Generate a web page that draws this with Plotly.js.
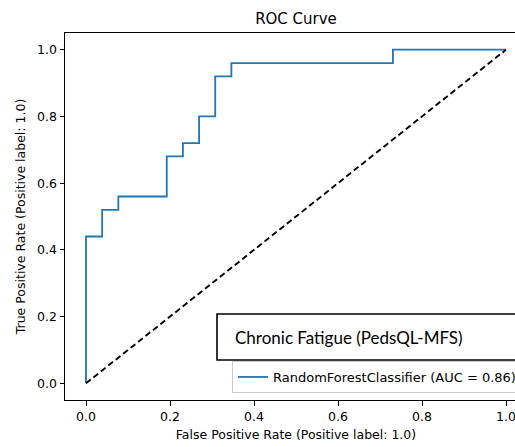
<!DOCTYPE html>
<html>
<head>
<meta charset="utf-8">
<script src="https://cdn.plot.ly/plotly-3.0.1.min.js"></script>
<style>
html, body { margin: 0; padding: 0; overflow: hidden; background: #fff; width: 515px; height: 447px; }
#chart { width: 560px; height: 447px; }
</style>
</head>
<body>
<div id="chart"></div>
<script>
// ROC curve points (FPR, TPR)
const fpr = [0, 0, 1/26, 2/26, 5/26, 6/26, 7/26, 8/26, 9/26, 19/26, 1];
const tpr = [0, 0.44, 0.52, 0.56, 0.68, 0.72, 0.80, 0.92, 0.96, 1.0, 1.0];
const chanceX = [0, 1];
const chanceY = [0, 1];
const xTicks = [0, 0.2, 0.4, 0.6, 0.8, 1.0];
const xTickText = ["0.0", "0.2", "0.4", "0.6", "0.8", "1.0"];
const yTicks = [0, 0.2, 0.4, 0.6, 0.8, 1.0];
const yTickText = ["0.0", "0.2", "0.4", "0.6", "0.8", "1.0"];
const seriesName = "RandomForestClassifier (AUC = 0.86)";
const boxLabel = "Chronic Fatigue (PedsQL-MFS)";

const FONT = "DejaVu Sans, sans-serif";

const traces = [
  {
    x: fpr, y: tpr, type: "scatter", mode: "lines",
    line: { color: "#1f77b4", width: 1.8, shape: "hv" },
    name: seriesName, showlegend: true, hoverinfo: "skip"
  },
  {
    x: chanceX, y: chanceY, type: "scatter", mode: "lines",
    line: { color: "#000000", width: 1.9, dash: "6px,3.5px" },
    showlegend: false, hoverinfo: "skip"
  }
];

const axisCommon = {
  showgrid: false, zeroline: false,
  showline: true, mirror: true, linecolor: "#000", linewidth: 1,
  ticks: "outside", ticklen: 4.5, tickwidth: 1, tickcolor: "#000",
  tickfont: { family: FONT, size: 12.5, color: "#000" },
  fixedrange: true
};

const layout = {
  width: 560, height: 447,
  margin: { l: 65, r: 33, t: 33, b: 47 },
  paper_bgcolor: "#fff", plot_bgcolor: "#fff",
  font: { family: FONT, color: "#000" },
  title: {
    text: "ROC Curve", font: { family: FONT, size: 15, color: "#000" },
    x: 0.5, xref: "paper", xanchor: "center",
    y: 1 - 19 / 447, yref: "container", yanchor: "middle"
  },
  xaxis: Object.assign({}, axisCommon, {
    range: [-0.05, 1.05], tickvals: xTicks, ticktext: xTickText,
    title: { text: "False Positive Rate (Positive label: 1.0)", font: { family: FONT, size: 12.5, color: "#000" }, standoff: 7 }
  }),
  yaxis: Object.assign({}, axisCommon, {
    range: [-0.05, 1.05], tickvals: yTicks, ticktext: yTickText,
    title: { text: "True Positive Rate (Positive label: 1.0)", font: { family: FONT, size: 12.5, color: "#000" }, standoff: 8 }
  }),
  showlegend: true,
  legend: {
    x: (232 - 65) / 462, xanchor: "left",
    y: (400 - 393) / 367, yanchor: "bottom",
    bgcolor: "#fff", bordercolor: "#cccccc", borderwidth: 1,
    font: { family: FONT, size: 13, color: "#000" },
    itemwidth: 30, tracegroupgap: 0
  },
  shapes: [
    {
      type: "rect", xref: "paper", yref: "paper",
      x0: (217 - 65) / 462, x1: (540 - 65) / 462,
      y0: (400 - 360) / 367, y1: (400 - 314) / 367,
      line: { color: "#000", width: 1.6 }, fillcolor: "#fff", layer: "above"
    }
  ],
  annotations: [
    {
      text: boxLabel, xref: "paper", yref: "paper",
      x: (233 - 65) / 462, xanchor: "left",
      y: (400 - 337) / 367, yanchor: "middle",
      showarrow: false,
      font: { family: "Lato, sans-serif", size: 17, color: "#000" }
    }
  ]
};

Plotly.newPlot("chart", traces, layout, { displayModeBar: false, staticPlot: true });
</script>
</body>
</html>
